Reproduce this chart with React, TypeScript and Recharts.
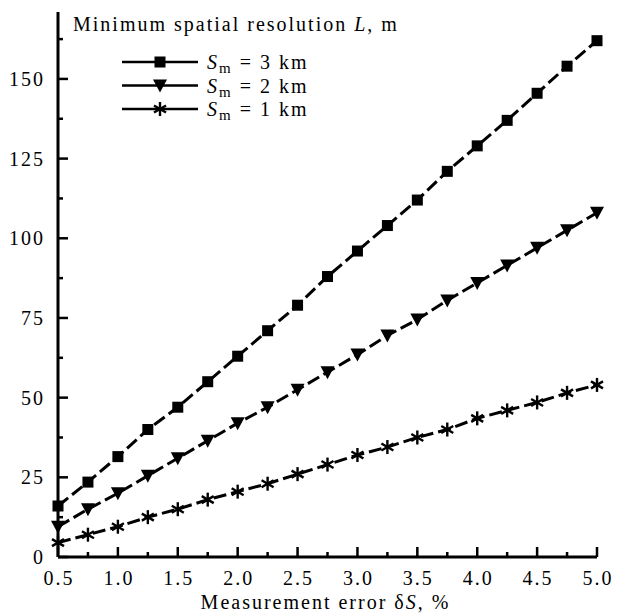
import React from "react";
import { LineChart, Line, XAxis, YAxis } from "recharts";

const errors = [0.5, 0.75, 1.0, 1.25, 1.5, 1.75, 2.0, 2.25, 2.5, 2.75, 3.0, 3.25, 3.5, 3.75, 4.0, 4.25, 4.5, 4.75, 5.0];
const res3km = [16, 23.5, 31.5, 40, 47, 55, 63, 71, 79, 88, 96, 104, 112, 121, 129, 137, 145.5, 154, 162];
const res2km = [9.5, 15, 20, 25.5, 31, 36.5, 42, 47, 52.5, 58, 63.5, 69.5, 74.5, 80.5, 86, 91.5, 97, 102.5, 108];
const res1km = [4.5, 7, 9.5, 12.5, 15, 18, 20.5, 23, 26, 29, 32, 34.5, 37.5, 40, 43.5, 46, 48.5, 51.5, 54];

const xMajor = [0.5, 1.0, 1.5, 2.0, 2.5, 3.0, 3.5, 4.0, 4.5, 5.0];
const xTicks = errors;
const yMajor = [0, 25, 50, 75, 100, 125, 150];
const yTicks = [0, 12.5, 25, 37.5, 50, 62.5, 75, 87.5, 100, 112.5, 125, 137.5, 150, 162.5];

const data = errors.map((e, i) => ({ e, s3: res3km[i], s2: res2km[i], s1: res1km[i] }));

const FONT = "'Liberation Serif', serif";
const FS = 20;
const LS = 2;
const INK = "#000";

const Square = ({ cx, cy }: any) => <rect x={cx - 5.5} y={cy - 5.5} width={11} height={11} fill={INK} />;
const Tri = ({ cx, cy }: any) => (
  <path d={`M${cx - 7},${cy - 6} L${cx + 7},${cy - 6} L${cx},${cy + 7} Z`} fill={INK} />
);
const Star = ({ cx, cy }: any) => (
  <g stroke={INK} strokeWidth={2.4} strokeLinecap="butt">
    <line x1={cx} y1={cy - 7} x2={cx} y2={cy + 7} />
    <line x1={cx - 6} y1={cy - 3.5} x2={cx + 6} y2={cy + 3.5} />
    <line x1={cx - 6} y1={cy + 3.5} x2={cx + 6} y2={cy - 3.5} />
  </g>
);

const XTick = ({ x, y, payload }: any) => {
  const major = xMajor.includes(payload.value);
  return (
    <g>
      <line x1={x} y1={y} x2={x} y2={y - (major ? 10 : 5)} stroke={INK} strokeWidth={2.5} />
      {major && (
        <text x={x + 1} y={y + 28} textAnchor="middle" fontFamily={FONT} fontSize={FS} letterSpacing={LS} fill={INK}>
          {payload.value.toFixed(1)}
        </text>
      )}
    </g>
  );
};

const YTick = ({ x, y, payload }: any) => {
  const major = yMajor.includes(payload.value);
  return (
    <g>
      <line x1={x} y1={y} x2={x + (major ? 10 : 5)} y2={y} stroke={INK} strokeWidth={2.5} />
      {major && (
        <text x={x - 13} y={y + 7} textAnchor="end" fontFamily={FONT} fontSize={FS} letterSpacing={LS} fill={INK}>
          {payload.value}
        </text>
      )}
    </g>
  );
};

const legendRows = [
  { label: "3", Marker: Square },
  { label: "2", Marker: Tri },
  { label: "1", Marker: Star },
];

const LegendBox = () => (
  <svg width={340} height={130} style={{ position: "absolute", left: 0, top: 0 }}>
    {legendRows.map((r, i) => {
      const cy = 62 + i * 23.5;
      return (
        <g key={r.label}>
          <line x1={122} y1={cy} x2={198} y2={cy} stroke={INK} strokeWidth={2.5} />
          <r.Marker cx={160} cy={cy} />
          <text x={207} y={cy + 7} fontFamily={FONT} fontSize={FS} letterSpacing={LS} fill={INK}>
            <tspan fontStyle="italic">S</tspan>
            <tspan fontSize={15} dy={4}>m</tspan>
            <tspan dy={-4}>{` = ${r.label} km`}</tspan>
          </text>
        </g>
      );
    })}
  </svg>
);

export default function App() {
  return (
    <div style={{ position: "absolute", left: 0, top: 0, width: 622, height: 615, background: "#fff" }}>
      <LineChart width={622} height={615} data={data} margin={{ top: 12, right: 25, bottom: 0, left: 0 }}>
        <XAxis
          dataKey="e"
          type="number"
          domain={[0.5, 5]}
          ticks={xTicks}
          interval={0}
          height={58}
          tickSize={0}
          tickMargin={0}
          tick={<XTick />}
          axisLine={{ stroke: INK, strokeWidth: 3 }}
          label={{
            content: ({ viewBox }: any) => (
              <text x={viewBox.x + viewBox.width / 2 - 2} y={viewBox.y + 52} textAnchor="middle" fontFamily={FONT} fontSize={FS} letterSpacing={LS} fill={INK}>
                Measurement error  δ<tspan fontStyle="italic">S</tspan>, %
              </text>
            ),
          }}
        />
        <YAxis
          type="number"
          domain={[0, 171]}
          ticks={yTicks}
          interval={0}
          width={58}
          tickSize={0}
          tickMargin={0}
          tick={<YTick />}
          axisLine={{ stroke: INK, strokeWidth: 3 }}
          label={{
            content: ({ viewBox }: any) => (
              <text x={viewBox.x + viewBox.width + 15} y={viewBox.y + 19} fontFamily={FONT} fontSize={FS} letterSpacing={LS} fill={INK}>
                Minimum spatial resolution <tspan fontStyle="italic">L</tspan>, m
              </text>
            ),
          }}
        />
        <Line dataKey="s3" stroke={INK} strokeWidth={3} strokeDasharray="13 5" dot={<Square />} isAnimationActive={false} />
        <Line dataKey="s2" stroke={INK} strokeWidth={3} strokeDasharray="13 5" dot={<Tri />} isAnimationActive={false} />
        <Line dataKey="s1" stroke={INK} strokeWidth={3} strokeDasharray="13 5" dot={<Star />} isAnimationActive={false} />
      </LineChart>
      <LegendBox />
    </div>
  );
}
